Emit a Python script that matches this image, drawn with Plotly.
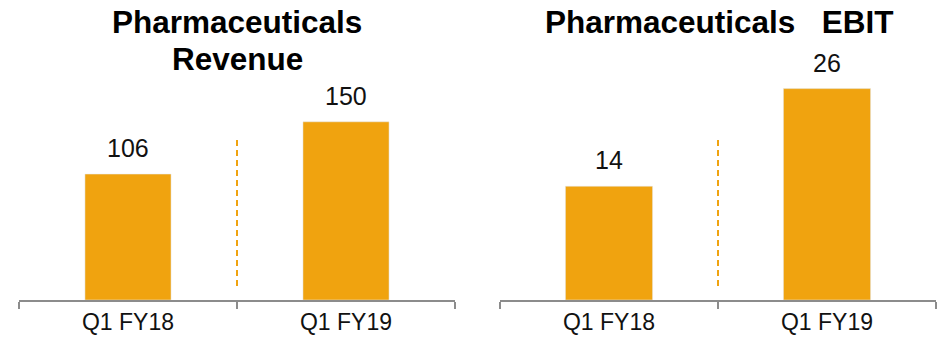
import plotly.graph_objects as go

categories = ["Q1 FY18", "Q1 FY19"]
revenue = [106, 150]
ebit = [14, 26]
title_left = ["Pharmaceuticals", "Revenue"]
title_right = ["Pharmaceuticals\u00a0\u00a0\u00a0EBIT"]

BAR = "#F0A30F"
AXIS = "#8C8C8C"
FONT = "Liberation Sans, Arial, sans-serif"
W, H = 940, 340

fig = go.Figure()

fig.add_trace(go.Bar(x=categories, y=revenue, xaxis="x", yaxis="y",
                     marker=dict(color=BAR), width=0.395, showlegend=False,
                     hoverinfo="skip"))
fig.add_trace(go.Bar(x=categories, y=ebit, xaxis="x2", yaxis="y2",
                     marker=dict(color=BAR), width=0.4, showlegend=False,
                     hoverinfo="skip"))

annotations = []
for xr, yr, vals in (("x", "y", revenue), ("x2", "y2", ebit)):
    for c, v in zip(categories, vals):
        annotations.append(dict(x=c, y=v, xref=xr, yref=yr, text=str(v),
                                showarrow=False, yanchor="bottom", yshift=10,
                                font=dict(family=FONT, size=25, color="#111111")))

for cx, lines in ((237, title_left), (719, title_right)):
    for i, line in enumerate(lines):
        annotations.append(dict(x=cx / W, y=1 - (2 + 37 * i) / H, xref="paper",
                                yref="paper", text="<b>" + line + "</b>",
                                showarrow=False, xanchor="center", yanchor="top",
                                font=dict(family=FONT, size=31.5, color="#000000")))

shapes = []
for xr in ("x", "x2"):
    shapes.append(dict(type="line", xref=xr, yref="paper", x0=0.5, x1=0.5,
                       y0=1 - 286 / H, y1=1 - 136 / H,
                       line=dict(color=BAR, width=2, dash="6px,4px")))

xcommon = dict(type="category", range=[-0.5, 1.5], showline=True,
               linecolor=AXIS, linewidth=2, ticks="outside", ticklen=7,
               tickwidth=2, tickcolor=AXIS, tickson="boundaries",
               showgrid=False, zeroline=False,
               tickfont=dict(family=FONT, size=23, color="#111111"))
ycommon = dict(showgrid=False, zeroline=False, showticklabels=False,
               showline=False, domain=[1 - 300 / H, 1])

fig.update_layout(
    width=W, height=H, margin=dict(l=0, r=0, t=0, b=0),
    paper_bgcolor="white", plot_bgcolor="white",
    xaxis=dict(domain=[19 / W, 455 / W], anchor="y", **xcommon),
    xaxis2=dict(domain=[500 / W, 936 / W], anchor="y2", **xcommon),
    yaxis=dict(range=[0, 300 / 1.188], anchor="x", **ycommon),
    yaxis2=dict(range=[0, 300 / 8.13], anchor="x2", **ycommon),
    annotations=annotations, shapes=shapes, bargap=0.6,
)

fig.write_html("out.html")
